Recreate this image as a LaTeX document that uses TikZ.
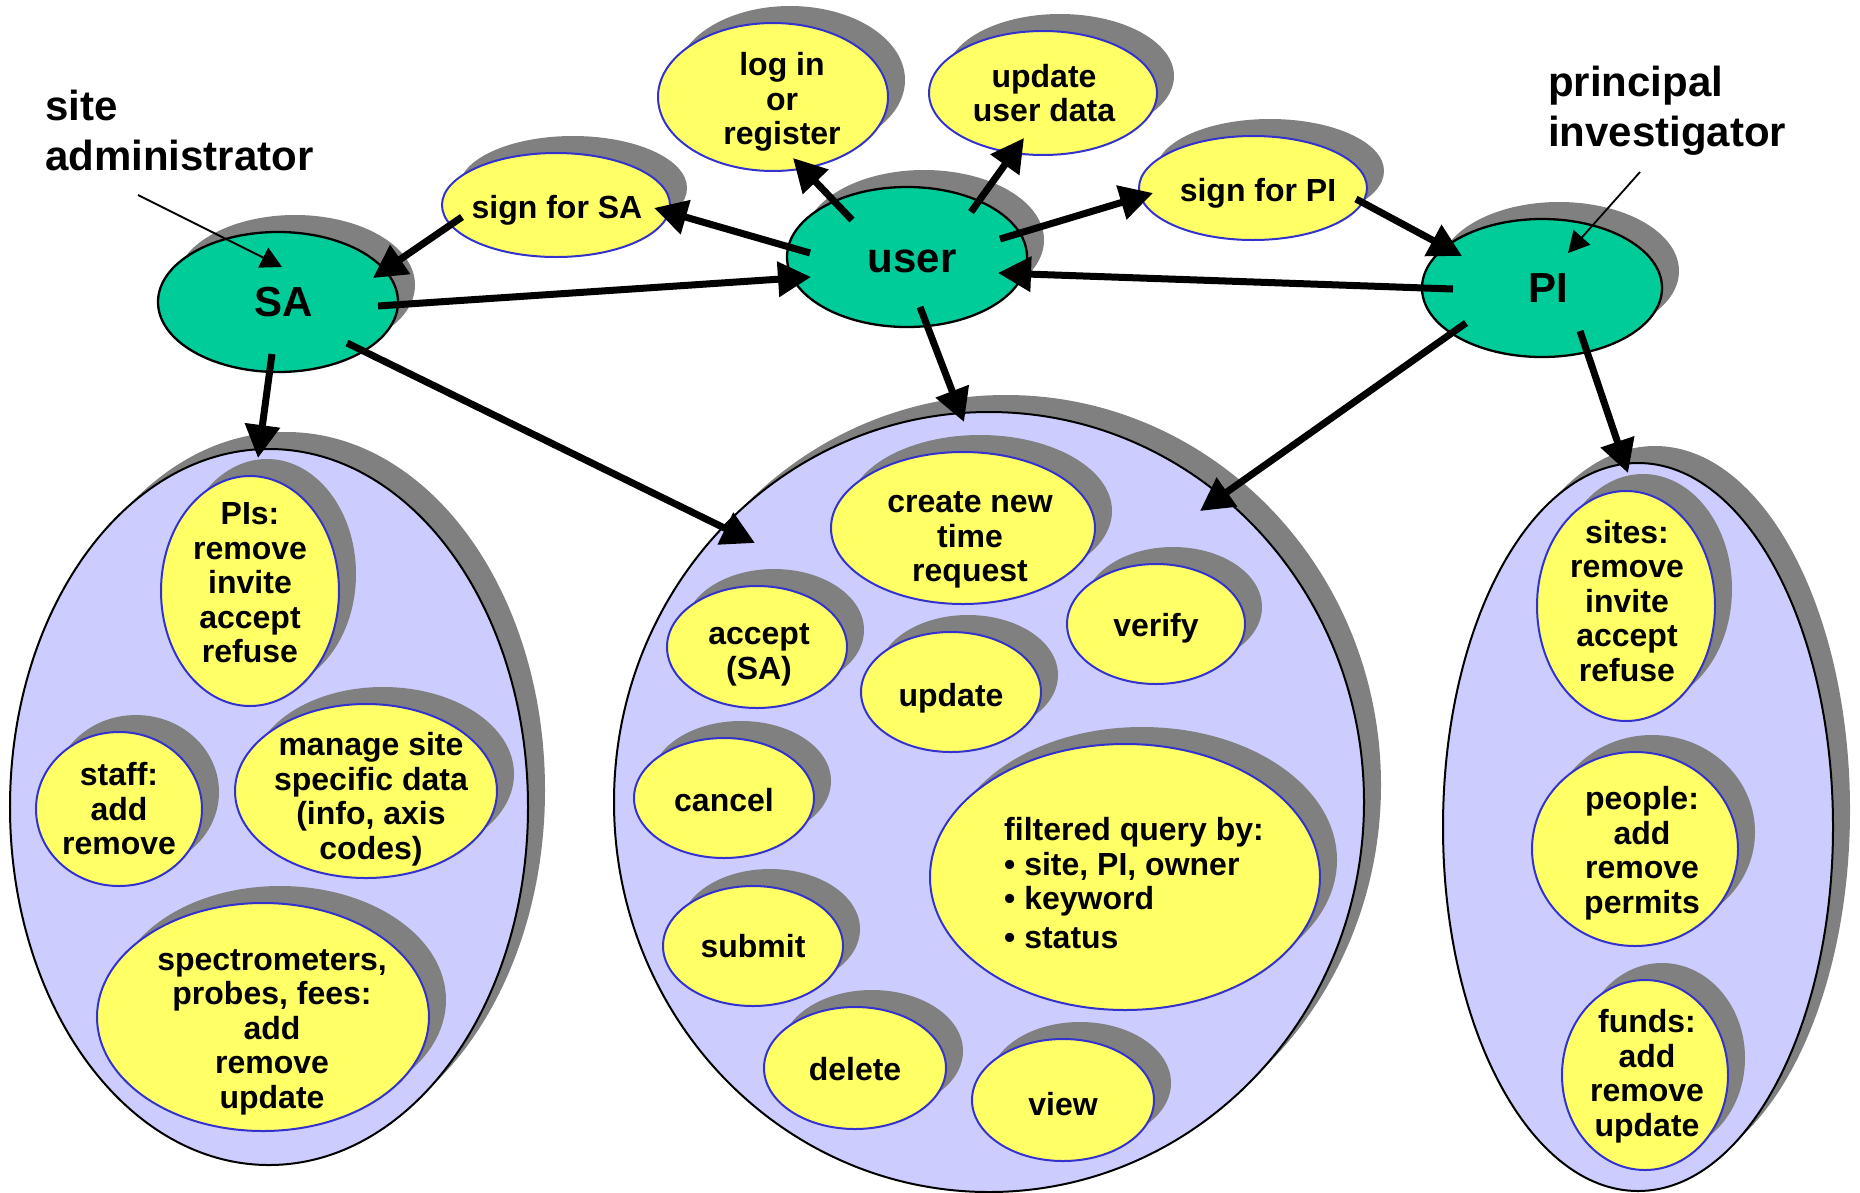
\documentclass[tikz,border=0pt]{standalone}
\usepackage{fontspec}
\setmainfont{Liberation Sans}
\usetikzlibrary{shapes.geometric,shadows,arrows.meta,calc}
\definecolor{grn}{HTML}{00CC99}
\definecolor{yel}{HTML}{FFFF66}
\definecolor{lav}{HTML}{CCCCFF}
\definecolor{shdgray}{HTML}{808080}
\definecolor{ybord}{HTML}{3333CC}
\begin{document}
\begin{tikzpicture}[x=1bp,y=-1bp,
  sz/.style 2 args={minimum width={2bp*#1}, minimum height={2bp*#2}},
  ov/.style={ellipse, inner sep=0pt, drop shadow={shadow xshift=17bp, shadow yshift=17bp, fill=shdgray, opacity=1}},
  big/.style={ov, fill=lav, draw=black, line width=2bp},
  actor/.style={ov, fill=grn, draw=black, line width=2.3bp},
  atxt/.style={inner sep=0pt, font=\fontsize{42bp}{48bp}\selectfont\bfseries},
  yov/.style={ov, fill=yel, draw=ybord, line width=2bp},
  ytxt/.style={align=center, inner sep=0pt, font=\fontsize{32bp}{34.5bp}\selectfont\bfseries},
  lbl/.style={align=left, inner sep=0pt, anchor=north west, font=\fontsize{42bp}{50bp}\selectfont\bfseries},
  arr/.style={line width=7bp, -{Triangle[length=33bp,width=34bp]}},
  tarr/.style={line width=1.8bp, -{Triangle[length=21bp,width=22bp]}}]
\useasboundingbox (0,0) rectangle (1860,1192);

% group ellipses
\node[big, sz={259}{358}] (grpSA) at (269,807) {};
\node[big, sz={375}{390}] (grpU) at (989,802) {};
\node[big, sz={195}{364}] (grpPI) at (1638,827) {};

% left group
\node[yov, sz={89}{115}] (pis) at (250,591) {};
\node[yov, sz={83}{77}] (staff) at (119,809) {};
\node[yov, sz={131}{87}] (manage) at (366,791) {};
\node[yov, sz={166}{114}] (spec) at (263,1017) {};
\node[ytxt] at ($(pis)+(0,-8)$) {PIs:\\remove\\invite\\accept\\refuse};
\node[ytxt] at (staff) {staff:\\add\\remove};
\node[ytxt] at ($(manage)+(5,8)$) {manage site\\specific data\\(info, axis\\codes)};
\node[ytxt] at ($(spec)+(9,15)$) {spectrometers,\\probes, fees:\\add\\remove\\update};

% middle group
\node[yov, sz={132}{76}] (create) at (963,528) {};
\node[yov, sz={90}{61}] (acc) at (757,647) {};
\node[yov, sz={89}{60}] (verify) at (1156,624) {};
\node[yov, sz={90}{60}] (upd) at (951,692) {};
\node[yov, sz={90}{60}] (cancel) at (724,798) {};
\node[yov, sz={195}{133}] (query) at (1125,877) {};
\node[yov, sz={90}{60}] (submit) at (753,946) {};
\node[yov, sz={91}{61}] (delete) at (855,1068) {};
\node[yov, sz={91}{61}] (view) at (1063,1100) {};
\node[ytxt] at ($(create)+(7,12)$) {create new\\time\\request};
\node[ytxt] at ($(acc)+(2,8)$) {accept\\(SA)};
\node[ytxt] at ($(verify)+(0,4)$) {verify};
\node[ytxt] at ($(upd)+(0,6)$) {update};
\node[ytxt] at ($(cancel)+(0,2)$) {cancel};
\node[ytxt, align=left] at ($(query)+(9,6)$) {filtered query by:\\• site, PI, owner\\• keyword\\[4bp]• status};
\node[ytxt] at (submit) {submit};
\node[ytxt] at ($(delete)+(0,1)$) {delete};
\node[ytxt] at ($(view)+(0,4)$) {view};

% right group
\node[yov, sz={89}{115}] (sites) at (1626,606) {};
\node[yov, sz={103}{97}] (people) at (1635,849) {};
\node[yov, sz={83}{95}] (funds) at (1645,1075) {};
\node[ytxt] at ($(sites)+(1,-5)$) {sites:\\remove\\invite\\accept\\refuse};
\node[ytxt] at ($(people)+(7,4)$) {people:\\add\\remove\\permits};
\node[ytxt] at ($(funds)+(2,1)$) {funds:\\add\\remove\\update};

% actors
\node[actor, sz={120}{70}] (SA) at (278,302) {};
\node[actor, sz={120}{70}] (user) at (907,257) {};
\node[actor, sz={120}{69}] (PI) at (1542,288) {};
\node[atxt] at ($(SA)+(6,0)$) {SA};
\node[atxt] at ($(user)+(5,4)$) {user};
\node[atxt] at ($(PI)+(6,0)$) {PI};

% top actions
\node[yov, sz={114}{52}] (signSA) at (556,205) {};
\node[yov, sz={115}{74}] (login) at (773,97) {};
\node[yov, sz={114}{62}] (upduser) at (1043,93) {};
\node[yov, sz={114}{52}] (signPI) at (1253,188) {};
\node[ytxt] at ($(signSA)+(1,5)$) {sign for SA};
\node[ytxt] at ($(login)+(9,5)$) {log in\\or\\register};
\node[ytxt] at ($(upduser)+(1,0)$) {update\\user data};
\node[ytxt] at ($(signPI)+(5,5)$) {sign for PI};

% labels
\node[lbl] (salbl) at (45,90) {site\\administrator};
\node[lbl] (pilbl) at (1548,66) {principal\\investigator};
\coordinate (saTail) at (138,195);
\coordinate (piTail) at (1640,172);

% connectors
\draw[arr] ($(SA)+(100,4)$) -- ($(user)+(-96,20)$);
\draw[arr] ($(user)+(-97,-4)$) -- ($(signSA)+(98,3)$);
\draw[arr] ($(signSA)+(-94,12)$) -- ($(SA)+(95,-24)$);
\draw[arr] ($(user)+(-55,-37)$) -- ($(login)+(20,61)$);
\draw[arr] ($(user)+(64,-45)$) -- ($(upduser)+(-19,45)$);
\draw[arr] ($(user)+(93,-18)$) -- ($(signPI)+(-100,5)$);
\draw[arr] ($(signPI)+(103,11)$) -- ($(PI)+(-80,-32)$);
\draw[arr] ($(PI)+(-89,1)$) -- ($(user)+(91,16)$);
\draw[arr] ($(SA)+(-6,52)$) -- ($(grpSA)+(-11,-349)$);
\draw[arr] ($(SA)+(69,41)$) -- ($(grpU)+(-234,-259)$);
\draw[arr] ($(user)+(13,50)$) -- ($(grpU)+(-25,-380)$);
\draw[arr] ($(PI)+(-76,35)$) -- ($(grpU)+(211,-291)$);
\draw[arr] ($(PI)+(38,43)$) -- ($(grpPI)+(-10,-354)$);
\draw[tarr] (saTail) -- ($(SA)+(4,-35)$);
\draw[tarr] (piTail) -- ($(PI)+(26,-35)$);
\end{tikzpicture}
\end{document}
